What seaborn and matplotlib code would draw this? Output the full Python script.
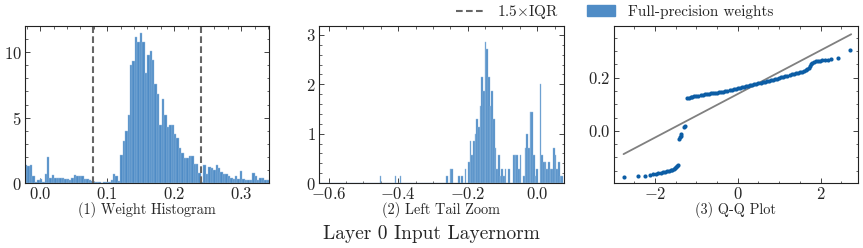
import numpy as np
import pandas as pd
import matplotlib
matplotlib.use("Agg")
import matplotlib.pyplot as plt
import matplotlib.ticker as ticker
from matplotlib.lines import Line2D
from matplotlib.patches import Patch
import seaborn as sns

# ---- data ----
# (1) weight histogram: density per bin, 100 bins over the clipped range
hist_range = (-0.0225, 0.342)
hist_density = [1.4, 1.3, 1.4, 0.55, 0.1, 0.2, 0.3, 0.1, 0.7, 2.0,
                0.4, 0.6, 0.4, 0.4, 0.35, 0.4, 0.3, 0.3, 0.25, 0.35,
                0.6, 0.55, 0.55, 0.5, 0.3, 0.3, 0.2, 0.15, 0.05, 0.1,
                0.05, 0.0, 0.05, 0.05, 0.05, 0.25, 0.7, 0.5, 0.15, 2.13,
                3.24, 4.0, 5.17, 9.0, 9.3, 11.2, 10.8, 11.5, 10.8, 8.4,
                9.8, 10.1, 9.4, 7.6, 6.8, 4.45, 6.45, 5.2, 4.3, 4.45,
                4.45, 3.75, 3.45, 2.7, 2.3, 1.9, 1.9, 2.1, 2.1, 1.47,
                1.47, 0.75, 0.1, 1.4, 0.7, 1.26, 1.13, 1.0, 1.4, 1.13,
                0.87, 0.7, 0.68, 0.5, 0.36, 0.28, 0.5, 0.28, 0.95, 0.28,
                0.23, 0.23, 0.23, 0.8, 0.5, 0.23, 0.36, 0.4, 0.23, 0.2]
iqr_bounds = [0.0787, 0.2408]

# (2) left tail zoom: bar centres and densities
tail_range = (-0.6312, 0.0792)
tail_values = [-0.4512, -0.408, -0.3936, -0.2592, -0.2496, -0.2448, -0.2256, -0.216,
               -0.2064, -0.1968, -0.192, -0.1872, -0.1824, -0.1776, -0.1728, -0.168,
               -0.1632, -0.1584, -0.1536, -0.1488, -0.144, -0.1392, -0.1344, -0.1296,
               -0.1248, -0.12, -0.1152, -0.1104, -0.1056, -0.1008, -0.096, -0.0912,
               -0.0816, -0.0672, -0.0624, -0.0576, -0.0528, -0.048, -0.0384, -0.0336,
               -0.0288, -0.024, -0.0192, -0.0144, -0.0096, -0.0048, 0.0, 0.0096,
               0.0144, 0.0192, 0.024, 0.0288, 0.0336, 0.0384, 0.0432, 0.048,
               0.0528, 0.0576, 0.0624, 0.0672, 0.072]
tail_density = [0.14, 0.14, 0.14, 0.14, 0.29, 0.29, 0.14, 0.14,
                0.29, 0.43, 0.86, 0.57, 0.86, 1.0, 1.29, 1.14,
                1.57, 2.14, 1.86, 2.86, 2.71, 2.14, 1.57, 1.86,
                1.29, 0.71, 0.29, 0.57, 0.14, 0.29, 0.14, 0.29,
                0.29, 0.57, 0.57, 0.57, 0.29, 0.57, 0.14, 0.71,
                1.0, 0.71, 1.43, 1.43, 0.57, 0.14, 0.29, 2.0,
                0.57, 0.43, 0.43, 0.29, 0.43, 0.29, 0.29, 0.71,
                0.57, 0.29, 0.43, 0.14, 0.14]

# (3) Q-Q plot: theoretical quantiles vs ordered weights
qq_theory = [-2.74, -2.42, -2.25, -2.13, -2.05, -1.98, -1.92, -1.86, -1.80, -1.75,
             -1.70, -1.66, -1.62, -1.58, -1.55, -1.52, -1.49, -1.46, -1.44,
             -1.42, -1.40, -1.38, -1.36, -1.30, -1.28,
             -1.22, -1.18, -1.14, -1.10, -1.05, -1.00, -0.95, -0.90, -0.85, -0.80,
             -0.75, -0.70, -0.65, -0.60, -0.55, -0.50, -0.45, -0.40, -0.35, -0.30,
             -0.25, -0.20, -0.15, -0.10, -0.05, 0.00, 0.05, 0.10, 0.15, 0.20,
             0.25, 0.30, 0.35, 0.40, 0.45, 0.50, 0.55, 0.60, 0.65, 0.70,
             0.75, 0.80, 0.85, 0.90, 0.95, 1.00, 1.05, 1.10, 1.15, 1.20,
             1.25, 1.30, 1.35, 1.40, 1.45, 1.50, 1.55, 1.60, 1.64, 1.68,
             1.71, 1.74, 1.77, 1.80, 1.84, 1.88, 1.93, 1.98, 2.04, 2.10,
             2.17, 2.25, 2.41, 2.72]
qq_ordered = [-0.173, -0.172, -0.170, -0.165, -0.163, -0.162, -0.160, -0.158, -0.156, -0.155,
              -0.153, -0.151, -0.149, -0.146, -0.144, -0.141, -0.138, -0.134, -0.130,
              -0.030, -0.025, -0.020, -0.013, 0.015, 0.017,
              0.122, 0.125, 0.127, 0.128, 0.130, 0.131, 0.133, 0.134, 0.135, 0.137,
              0.138, 0.139, 0.141, 0.142, 0.143, 0.144, 0.146, 0.147, 0.148, 0.150,
              0.151, 0.153, 0.155, 0.157, 0.159, 0.161, 0.163, 0.165, 0.167, 0.169,
              0.170, 0.172, 0.173, 0.175, 0.177, 0.179, 0.181, 0.183, 0.185, 0.187,
              0.189, 0.191, 0.193, 0.195, 0.197, 0.199, 0.201, 0.203, 0.205, 0.207,
              0.210, 0.213, 0.215, 0.217, 0.219, 0.221, 0.223, 0.226, 0.229, 0.232,
              0.236, 0.244, 0.251, 0.256, 0.259, 0.262, 0.264, 0.265, 0.266, 0.267,
              0.268, 0.270, 0.274, 0.306]
fit_x = [-2.76, 2.74]
fit_y = [-0.088, 0.364]

# ---- style ----
sns.set_theme(style="ticks")
plt.rcParams.update({
    "font.family": ["cmr10", "DejaVu Serif"],
    "mathtext.fontset": "cm",
    "axes.formatter.use_mathtext": True,
    "axes.unicode_minus": True,
    "font.size": 10,
    "axes.linewidth": 0.8,
    "axes.edgecolor": "#222222",
    "xtick.direction": "in",
    "ytick.direction": "in",
    "xtick.top": True,
    "ytick.right": True,
    "xtick.major.size": 3.5,
    "ytick.major.size": 3.5,
    "xtick.minor.size": 1.8,
    "ytick.minor.size": 1.8,
    "xtick.major.width": 0.6,
    "ytick.major.width": 0.6,
    "xtick.minor.width": 0.5,
    "ytick.minor.width": 0.5,
    "xtick.labelsize": 12,
    "ytick.labelsize": 12,
    "xtick.major.pad": 2.5,
    "ytick.major.pad": 2.5,
})

bar_color = "#4f8cc6"
bar_edge = "#9cc0e2"
dot_color = "#0C5DA5"
dash_color = "#666666"

fig, axes = plt.subplots(1, 3, figsize=(8.63, 2.48), dpi=100)
fig.subplots_adjust(left=0.029, right=0.994, top=0.895, bottom=0.262, wspace=0.205)

# (1) histogram
n1 = len(hist_density)
w1 = (hist_range[1] - hist_range[0]) / n1
hist_df = pd.DataFrame({"centre": hist_range[0] + w1 * (np.arange(n1) + 0.5),
                        "density": hist_density})
ax = axes[0]
sns.histplot(data=hist_df, x="centre", weights="density", bins=n1, binrange=hist_range,
             ax=ax, color=bar_color, alpha=1, edgecolor=bar_edge, linewidth=0.3)
for b in iqr_bounds:
    ax.axvline(b, color=dash_color, ls="--", lw=1.5, dashes=(3.2, 1.6))
ax.set_xlim(*hist_range)
ax.set_ylim(0, 12)
ax.xaxis.set_major_locator(ticker.MultipleLocator(0.1))
ax.xaxis.set_minor_locator(ticker.MultipleLocator(0.02))
ax.yaxis.set_major_locator(ticker.MultipleLocator(5))
ax.yaxis.set_minor_locator(ticker.MultipleLocator(1))
ax.set_xlabel("(1) Weight Histogram", fontsize=10.3, labelpad=0)
ax.set_ylabel("")

# (2) left tail zoom
tail_df = pd.DataFrame({"value": tail_values, "density": tail_density})
ax = axes[1]
sns.histplot(data=tail_df, x="value", weights="density", bins=148, binrange=tail_range,
             ax=ax, color=bar_color, alpha=1, edgecolor=bar_edge, linewidth=0.3)
ax.set_xlim(-0.627, 0.076)
ax.set_ylim(0, 3.18)
ax.xaxis.set_major_locator(ticker.MultipleLocator(0.2))
ax.xaxis.set_minor_locator(ticker.MultipleLocator(0.05))
ax.yaxis.set_major_locator(ticker.MultipleLocator(1))
ax.yaxis.set_minor_locator(ticker.MultipleLocator(0.2))
ax.set_xlabel("(2) Left Tail Zoom", fontsize=10.3, labelpad=0)
ax.set_ylabel("")

# (3) Q-Q plot
ax = axes[2]
sns.lineplot(x=fit_x, y=fit_y, ax=ax, color="#808080", lw=1.3)
sns.scatterplot(x=qq_theory, y=qq_ordered, ax=ax, color=dot_color, s=9, linewidth=0, zorder=3)
ax.set_xlim(-3.0, 2.9)
ax.set_ylim(-0.197, 0.395)
ax.xaxis.set_major_locator(ticker.MultipleLocator(2))
ax.xaxis.set_minor_locator(ticker.MultipleLocator(0.5))
ax.yaxis.set_major_locator(ticker.MultipleLocator(0.2))
ax.yaxis.set_minor_locator(ticker.MultipleLocator(0.05))
ax.set_xlabel("(3) Q-Q Plot", fontsize=10.3, labelpad=0)
ax.set_ylabel("")

handles = [Line2D([0], [0], color=dash_color, ls="--", lw=1.5, dashes=(3.2, 1.6)),
           Patch(facecolor=bar_color, edgecolor=bar_color)]
fig.legend(handles, [r"1.5$\times$IQR", "Full-precision weights"], ncol=2, frameon=False,
           loc="center", bbox_to_anchor=(0.712, 0.952), fontsize=11,
           handlelength=1.85, columnspacing=1.8, handletextpad=0.85)

fig.text(0.5, 0.055, "Layer 0 Input Layernorm", ha="center", va="center", fontsize=14)

fig.savefig("out.png", dpi=100)
